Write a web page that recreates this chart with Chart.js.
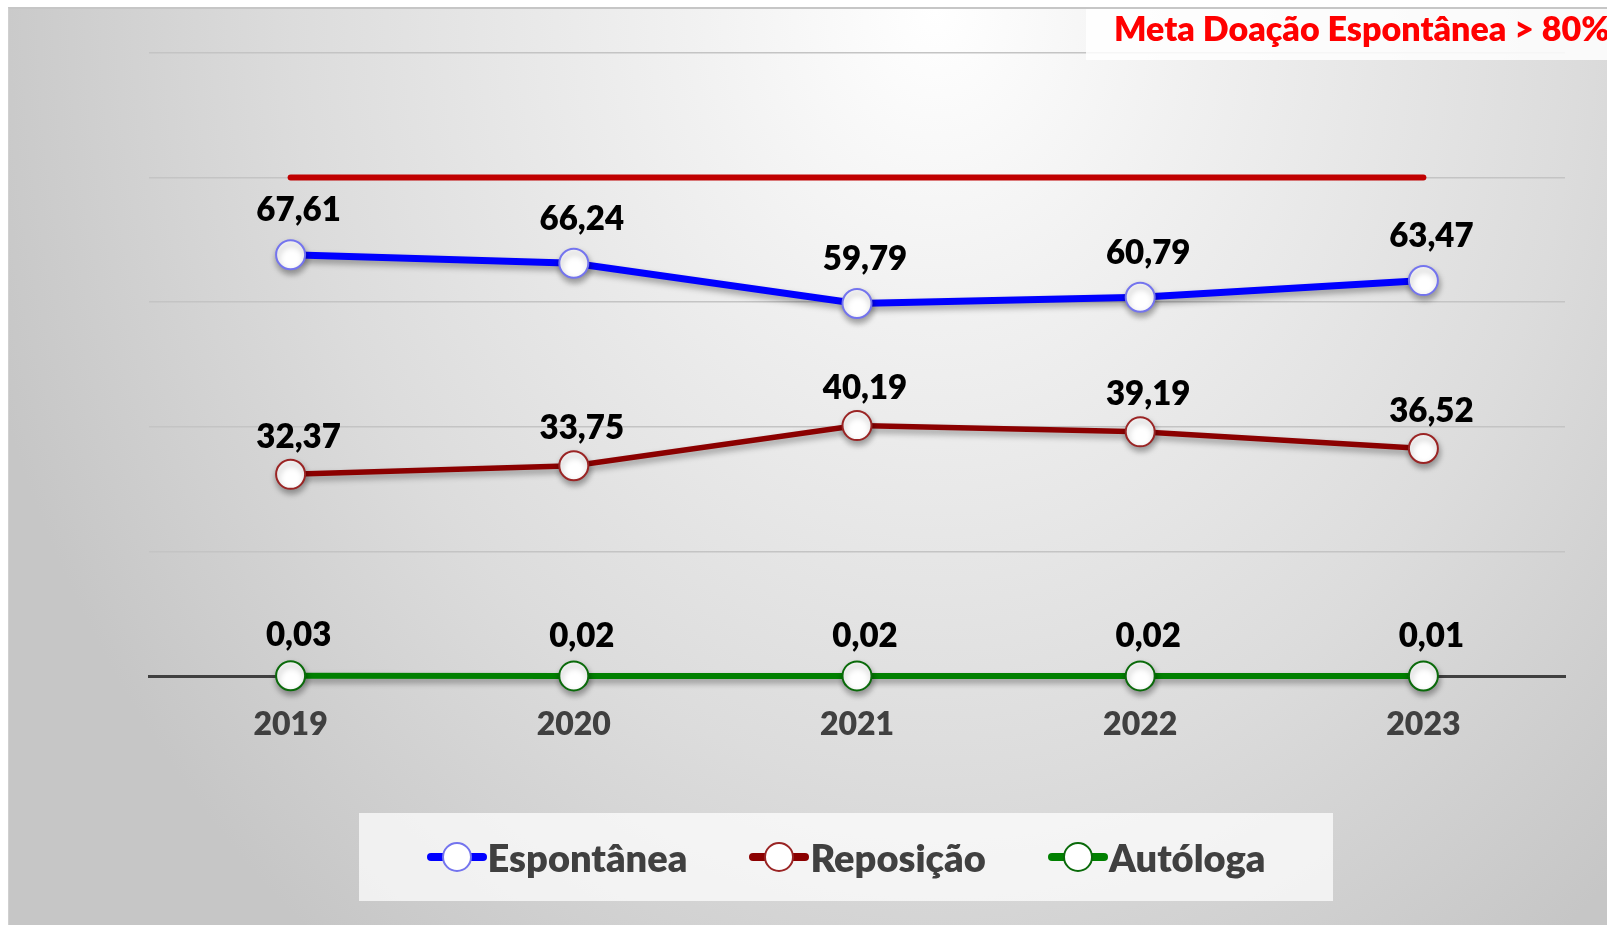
<!DOCTYPE html>
<html>
<head>
<meta charset="utf-8">
<script src="https://cdn.jsdelivr.net/npm/chart.js@4.4.1/dist/chart.umd.min.js"></script>
<style>
  html, body { margin: 0; padding: 0; background: #ffffff; }
  body { width: 1607px; height: 925px; position: relative; overflow: hidden; font-family: Lato, "Open Sans", sans-serif; }
  #frame {
    position: absolute; left: 8px; top: 7px; width: 1599px; height: 918px;
    border-top: 2px solid #c6c6c6; border-left: 1px solid #d0d0d0; box-sizing: border-box;
    background: radial-gradient(ellipse 62% 130% at 58% 0%, #ffffff 0%, #f1f1f1 25%, #dcdcdc 65%, #c6c6c6 100%);
  }
  #meta {
    position: absolute; left: 1086px; top: 9px; width: 521px; height: 51px;
    background: rgba(255,255,255,0.85); overflow: hidden; white-space: nowrap;
    color: #ff0000; font-weight: 800; font-size: 34px; line-height: 38px;
    box-sizing: border-box; padding-left: 28px;
  }
  #chartCanvas { position: absolute; left: 0; top: 0; }
  #legend {
    position: absolute; left: 359px; top: 813px; width: 974px; height: 88px;
    background: rgba(255,255,255,0.72);
    display: flex; align-items: center; justify-content: center; gap: 62px;
  }
  .item { display: flex; align-items: center; }
  .mk { position: relative; width: 60px; height: 32px; margin-right: 1px; }
  .mk .ln { position: absolute; left: 0; right: 0; top: 12px; height: 8px; border-radius: 4px; }
  .mk .pt { position: absolute; left: 15px; top: 1px; width: 26px; height: 26px; border-radius: 50%; background: #fff; border-width: 2px; border-style: solid; }
  .tx { font-weight: 800; font-size: 38px; color: #404040; line-height: 44px; }
</style>
</head>
<body>
<div id="frame"></div>
<canvas id="chartCanvas" width="1607" height="925"></canvas>
<div id="meta"></div>
<div id="legend"></div>
<script>
// ---- data ----
const categories = ['2019', '2020', '2021', '2022', '2023'];
const espontanea = [67.61, 66.24, 59.79, 60.79, 63.47];
const reposicao  = [32.37, 33.75, 40.19, 39.19, 36.52];
const autologa   = [0.03, 0.02, 0.02, 0.02, 0.01];
const metaLine   = [80, 80, 80, 80, 80];
const seriesNames = ['Espontânea', 'Reposição', 'Autóloga'];
const metaTitle = 'Meta Doação Espontânea > 80%';
const yMin = 0, yMax = 100, yStep = 20;

// ---- styles ----
const lineColors   = ['#0000ff', '#8b0000', '#008000'];
const pointBorders = ['#7474ee', '#9a2424', '#0a6a0a'];
const lineWidths   = [7, 5.5, 6];
const labelOffsets = [44, 37, 40];
const FONT = 'Lato, "Open Sans", sans-serif';

document.getElementById('meta').textContent = metaTitle;

const fmt = v => v.toFixed(2).replace('.', ',');

const seriesData = [espontanea, reposicao, autologa];
const datasets = [{
  label: 'Meta',
  data: metaLine,
  borderColor: '#c00000',
  borderWidth: 6,
  borderCapStyle: 'round',
  pointRadius: 0,
  pointHoverRadius: 0,
  fill: false,
  clip: false,
  isMeta: true
}];
seriesNames.forEach((name, i) => {
  datasets.push({
    label: name,
    data: seriesData[i],
    borderColor: lineColors[i],
    borderWidth: lineWidths[i],
    pointRadius: 14.5,
    pointHoverRadius: 14.5,
    pointBackgroundColor: '#ffffff',
    pointBorderColor: pointBorders[i],
    pointBorderWidth: 2,
    tension: 0,
    fill: false,
    clip: false,
    labelOffset: labelOffsets[i]
  });
});

const shadowPlugin = {
  id: 'shadow',
  beforeDatasetDraw(chart, args) {
    const ds = chart.data.datasets[args.index];
    chart.ctx.save();
    if (!ds.isMeta) {
      chart.ctx.shadowColor = 'rgba(0,0,0,0.35)';
      chart.ctx.shadowBlur = 6;
      chart.ctx.shadowOffsetX = 1;
      chart.ctx.shadowOffsetY = 4;
    }
  },
  afterDatasetDraw(chart) { chart.ctx.restore(); }
};

const labelPlugin = {
  id: 'valueLabels',
  afterDatasetsDraw(chart) {
    const ctx = chart.ctx;
    ctx.save();
    ctx.font = '800 33px ' + FONT;
    ctx.fillStyle = '#000000';
    ctx.textAlign = 'center';
    ctx.textBaseline = 'middle';
    chart.data.datasets.forEach((ds, di) => {
      if (ds.isMeta) return;
      const meta = chart.getDatasetMeta(di);
      meta.data.forEach((pt, j) => {
        ctx.fillText(fmt(ds.data[j]), pt.x + 8, pt.y - ds.labelOffset);
      });
    });
    ctx.restore();
  }
};

new Chart(document.getElementById('chartCanvas'), {
  type: 'line',
  data: { labels: categories, datasets },
  options: {
    responsive: false,
    animation: false,
    events: [],
    layout: { padding: { left: 149, right: 42, top: 53, bottom: 0 } },
    plugins: { legend: { display: false }, tooltip: { enabled: false }, title: { display: false } },
    scales: {
      x: {
        type: 'category',
        offset: true,
        grid: { display: false, drawTicks: false },
        border: { display: true, color: '#404040', width: 3 },
        ticks: { color: '#404040', font: { family: FONT, size: 32, weight: '800' }, padding: 29 },
        afterFit(s) { s.height = 249; }
      },
      y: {
        min: yMin, max: yMax,
        ticks: { display: false, stepSize: yStep },
        grid: { color: '#c4c4c4', lineWidth: 1.5, drawTicks: false },
        border: { display: false },
        afterFit(s) { s.width = 0; }
      }
    }
  },
  plugins: [shadowPlugin, labelPlugin]
});

// ---- legend ----
const legend = document.getElementById('legend');
seriesNames.forEach((name, i) => {
  const item = document.createElement('div');
  item.className = 'item';
  const mk = document.createElement('div');
  mk.className = 'mk';
  const ln = document.createElement('div');
  ln.className = 'ln';
  ln.style.background = lineColors[i];
  const pt = document.createElement('div');
  pt.className = 'pt';
  pt.style.borderColor = pointBorders[i];
  mk.appendChild(ln); mk.appendChild(pt);
  const tx = document.createElement('span');
  tx.className = 'tx';
  tx.textContent = name;
  item.appendChild(mk); item.appendChild(tx);
  legend.appendChild(item);
});
</script>
</body>
</html>
